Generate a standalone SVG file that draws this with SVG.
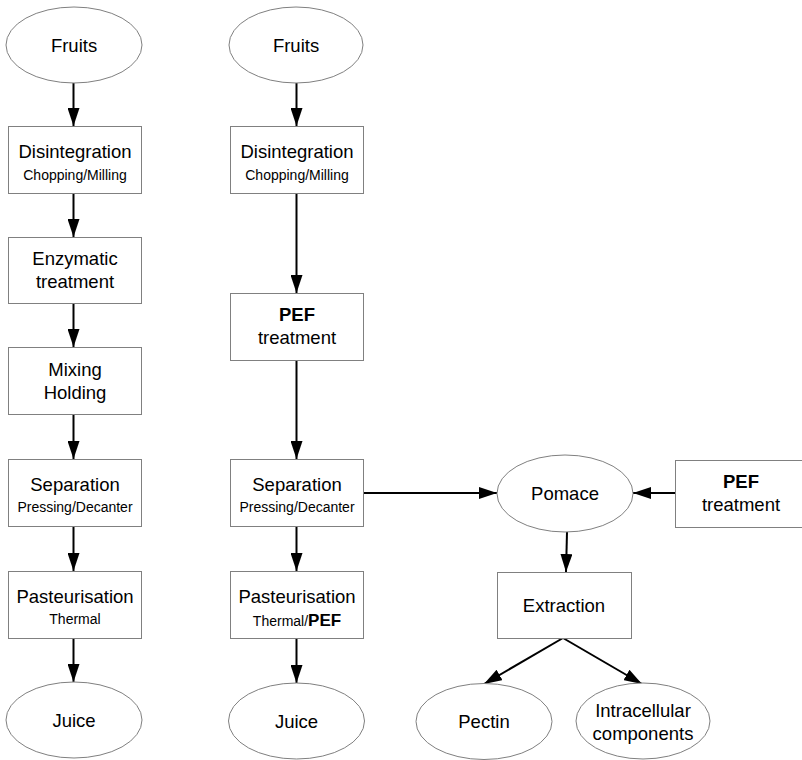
<svg xmlns="http://www.w3.org/2000/svg" width="802" height="760" viewBox="0 0 802 760">
<defs>
<marker id="ah" viewBox="0 0 18 12" refX="18" refY="6" markerWidth="18" markerHeight="12" markerUnits="userSpaceOnUse" orient="auto">
<path d="M0,0 L18,6 L0,12 Z" fill="#000"/>
</marker>
<style>
.b{fill:#fff;stroke:#808080;stroke-width:1}
.e{fill:#fff;stroke:#808080;stroke-width:1}
.t{font-family:"Liberation Sans",Arial,sans-serif;font-size:18.5px;fill:#000;text-anchor:middle}
.s{font-family:"Liberation Sans",Arial,sans-serif;font-size:14px;fill:#000;text-anchor:middle}
.bo{font-weight:bold}
.c{stroke:#000;stroke-width:2;fill:none;marker-end:url(#ah)}
</style>
</defs>
<rect width="802" height="760" fill="#fff"/>
<g id="connectors">
<line class="c" x1="73.5" y1="83" x2="73.5" y2="126"/>
<line class="c" x1="73.5" y1="193" x2="73.5" y2="237"/>
<line class="c" x1="73.5" y1="303" x2="73.5" y2="347"/>
<line class="c" x1="73.5" y1="414" x2="73.5" y2="459"/>
<line class="c" x1="73.5" y1="526" x2="73.5" y2="571"/>
<line class="c" x1="73.5" y1="638" x2="73.5" y2="682"/>
<line class="c" x1="296.5" y1="83" x2="296.5" y2="126"/>
<line class="c" x1="296.5" y1="193" x2="296.5" y2="293"/>
<line class="c" x1="296.5" y1="360" x2="296.5" y2="459"/>
<line class="c" x1="296.5" y1="526" x2="296.5" y2="571"/>
<line class="c" x1="296.5" y1="638" x2="296.5" y2="683"/>
<line class="c" x1="363" y1="493" x2="497" y2="493"/>
<line class="c" x1="675" y1="493" x2="633" y2="493"/>
<line class="c" x1="567" y1="532" x2="566" y2="572"/>
<line class="c" x1="563" y1="638" x2="484" y2="684"/>
<line class="c" x1="563" y1="638" x2="642" y2="684"/>
</g>
<g id="fruits1"><ellipse class="e" cx="74" cy="45" rx="68" ry="38"/><text class="t" x="74" y="52">Fruits</text></g>
<g id="disint1"><rect class="b" x="8.5" y="126.5" width="133" height="67"/><text class="t" x="75" y="158">Disintegration</text><text class="s" x="75" y="180">Chopping/Milling</text></g>
<g id="enzym"><rect class="b" x="8.5" y="237.5" width="133" height="66"/><text class="t" x="75" y="265">Enzymatic</text><text class="t" x="75" y="288">treatment</text></g>
<g id="mixing"><rect class="b" x="8.5" y="347.5" width="133" height="67"/><text class="t" x="75" y="376">Mixing</text><text class="t" x="75" y="399">Holding</text></g>
<g id="sep1"><rect class="b" x="8.5" y="459.5" width="133" height="67"/><text class="t" x="75" y="491">Separation</text><text class="s" x="75" y="512">Pressing/Decanter</text></g>
<g id="past1"><rect class="b" x="8.5" y="571.5" width="133" height="67"/><text class="t" x="75" y="603">Pasteurisation</text><text class="s" x="75" y="624">Thermal</text></g>
<g id="juice1"><ellipse class="e" cx="74" cy="720" rx="68" ry="38"/><text class="t" x="74" y="727">Juice</text></g>
<g id="fruits2"><ellipse class="e" cx="296" cy="45" rx="67" ry="38"/><text class="t" x="296" y="52">Fruits</text></g>
<g id="disint2"><rect class="b" x="230.5" y="126.5" width="133" height="67"/><text class="t" x="297" y="158">Disintegration</text><text class="s" x="297" y="180">Chopping/Milling</text></g>
<g id="pef1"><rect class="b" x="230.5" y="293.5" width="133" height="67"/><text class="t bo" x="297" y="321">PEF</text><text class="t" x="297" y="344">treatment</text></g>
<g id="sep2"><rect class="b" x="230.5" y="459.5" width="133" height="67"/><text class="t" x="297" y="491">Separation</text><text class="s" x="297" y="512">Pressing/Decanter</text></g>
<g id="past2"><rect class="b" x="230.5" y="571.5" width="133" height="67"/><text class="t" x="297" y="603">Pasteurisation</text><text class="s" x="297" y="626"><tspan>Thermal/</tspan><tspan class="bo" font-size="17">PEF</tspan></text></g>
<g id="juice2"><ellipse class="e" cx="296.5" cy="721" rx="68" ry="38"/><text class="t" x="296.5" y="728">Juice</text></g>
<g id="pomace"><ellipse class="e" cx="565" cy="493.5" rx="68" ry="38.5"/><text class="t" x="565" y="500">Pomace</text></g>
<g id="pef2"><rect class="b" x="675.5" y="460.5" width="133" height="67"/><text class="t bo" x="741" y="488">PEF</text><text class="t" x="741" y="511">treatment</text></g>
<g id="extraction"><rect class="b" x="497.5" y="572.5" width="134" height="66"/><text class="t" x="564" y="612">Extraction</text></g>
<g id="pectin"><ellipse class="e" cx="484" cy="721.5" rx="68" ry="38"/><text class="t" x="484" y="728">Pectin</text></g>
<g id="intra"><ellipse class="e" cx="643" cy="721" rx="67" ry="38"/><text class="t" x="643" y="717">Intracellular</text><text class="t" x="643" y="740">components</text></g>
</svg>
